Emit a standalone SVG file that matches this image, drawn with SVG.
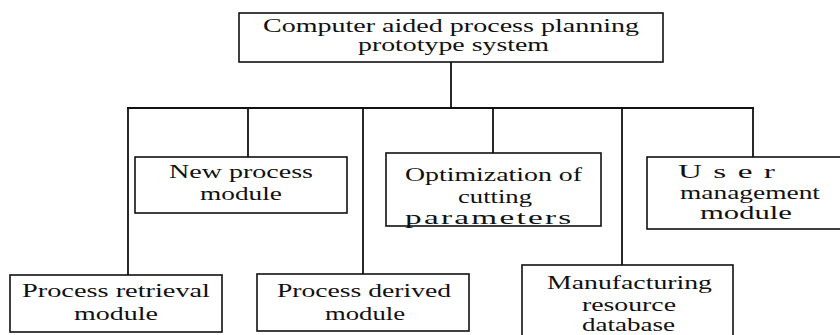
<svg xmlns="http://www.w3.org/2000/svg" width="840" height="335" viewBox="0 0 840 335">
<style>
.box{fill:#fff;stroke:#111;stroke-width:1.6}
.ln{stroke:#111;stroke-width:1.8;fill:none}
.t{font-family:"Liberation Serif","Times New Roman",serif;font-size:19px;fill:#111}
</style>
<rect width="840" height="335" fill="#fff"/>
<g id="connectors">
<line class="ln" x1="451" y1="62" x2="451" y2="108"/>
<line class="ln" x1="127" y1="108" x2="754" y2="108"/>
<line class="ln" x1="128" y1="108" x2="128" y2="275"/>
<line class="ln" x1="248" y1="108" x2="248" y2="157"/>
<line class="ln" x1="363" y1="108" x2="363" y2="274"/>
<line class="ln" x1="493" y1="108" x2="493" y2="153"/>
<line class="ln" x1="622" y1="108" x2="622" y2="265"/>
<line class="ln" x1="753" y1="108" x2="753" y2="157"/>
</g>
<g id="root">
<rect class="box" x="239" y="13" width="424" height="49"/>
<text class="t" x="263" y="32" textLength="376" lengthAdjust="spacingAndGlyphs">Computer aided process planning</text>
<text class="t" x="358" y="51" textLength="191" lengthAdjust="spacingAndGlyphs">prototype system</text>
</g>
<g id="new-process">
<rect class="box" x="135" y="157" width="212" height="56"/>
<text class="t" x="169" y="178" textLength="144" lengthAdjust="spacingAndGlyphs">New process</text>
<text class="t" x="200" y="200" textLength="82" lengthAdjust="spacingAndGlyphs">module</text>
</g>
<g id="optimization">
<rect class="box" x="386" y="153" width="215" height="73"/>
<text class="t" x="405" y="181" textLength="177" lengthAdjust="spacingAndGlyphs">Optimization of</text>
<text class="t" x="458" y="203" textLength="74" lengthAdjust="spacingAndGlyphs">cutting</text>
<text class="t" transform="translate(405,224) scale(1.75,1)" letter-spacing="1.3">parameters</text>
</g>
<g id="user-management">
<rect class="box" x="647" y="157" width="200" height="72"/>
<text class="t" transform="translate(678,178) scale(1.75,1)" letter-spacing="6.5">User</text>
<text class="t" x="680" y="199" textLength="140" lengthAdjust="spacingAndGlyphs">management</text>
<text class="t" x="700" y="219" textLength="92" lengthAdjust="spacingAndGlyphs">module</text>
</g>
<g id="process-retrieval">
<rect class="box" x="10" y="275" width="212" height="57"/>
<text class="t" x="22" y="297" textLength="188" lengthAdjust="spacingAndGlyphs">Process retrieval</text>
<text class="t" x="74" y="320" textLength="84" lengthAdjust="spacingAndGlyphs">module</text>
</g>
<g id="process-derived">
<rect class="box" x="257" y="274" width="212" height="57"/>
<text class="t" x="277" y="297" textLength="174" lengthAdjust="spacingAndGlyphs">Process derived</text>
<text class="t" x="325" y="320" textLength="80" lengthAdjust="spacingAndGlyphs">module</text>
</g>
<g id="manufacturing-resource">
<rect class="box" x="522" y="265" width="211" height="80"/>
<text class="t" x="547" y="289" textLength="165" lengthAdjust="spacingAndGlyphs">Manufacturing</text>
<text class="t" x="582" y="311" textLength="94" lengthAdjust="spacingAndGlyphs">resource</text>
<text class="t" x="582" y="331" textLength="93" lengthAdjust="spacingAndGlyphs">database</text>
</g>
</svg>
